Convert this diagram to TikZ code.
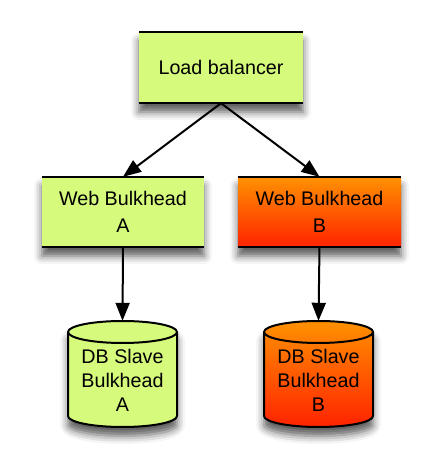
\documentclass[tikz,border=0pt]{standalone}
\usepackage{fontspec}
\setmainfont{Liberation Sans}
\usetikzlibrary{arrows.meta,shadows.blur}
\definecolor{boxgreen}{RGB}{214,250,124}
\definecolor{orangetop}{RGB}{255,145,0}
\definecolor{orangebot}{RGB}{255,35,0}
\tikzset{
  softshadow/.style={blur shadow={shadow xshift=0pt,shadow yshift=-9pt,shadow blur radius=8pt,shadow opacity=65}},
  webbox/.style={rectangle, minimum height=70pt, inner sep=0pt, align=center, font=\fontsize{19.7}{26.5}\selectfont, softshadow},
  greenfill/.style={fill=boxgreen},
  orangefill/.style={top color=orangetop, bottom color=orangebot},
  edgeline/.style={line width=2.2pt},
  conn/.style={line width=2pt, -{Triangle[length=18pt,width=14pt]}},
  dbframe/.style={rectangle, minimum width=109pt, minimum height=106pt, inner sep=0pt},
  dbtext/.style={align=center, font=\fontsize{19.7}{24}\selectfont, inner sep=0pt},
  cylout/.style={line width=2pt},
  pics/dbcyl/.style={code={
    \path[softshadow, #1] (-54.5,42) -- (-54.5,-42) arc[start angle=180,end angle=360,x radius=54.5pt,y radius=11pt] -- (54.5,42) arc[start angle=0,end angle=180,x radius=54.5pt,y radius=11pt] -- cycle;
    \draw[cylout] (-54.5,42) -- (-54.5,-42) arc[start angle=180,end angle=360,x radius=54.5pt,y radius=11pt] -- (54.5,42) arc[start angle=0,end angle=180,x radius=54.5pt,y radius=11pt] -- cycle;
    \draw[cylout] (-54.5,42) arc[start angle=180,end angle=360,x radius=54.5pt,y radius=11pt];
  }}
}
\begin{document}
\begin{tikzpicture}[x=1pt,y=1pt]
\useasboundingbox (0,0) rectangle (440,476);

\node[webbox, greenfill, minimum width=164pt, minimum height=71pt] (lb) at (221,408.5) {Load balancer};
\node[webbox, greenfill, minimum width=162pt] (webA) at (123,264) {Web Bulkhead\\A};
\node[webbox, orangefill, minimum width=163pt] (webB) at (319.5,264) {Web Bulkhead\\B};
\foreach \n in {lb,webA,webB} {
  \draw[edgeline] (\n.north west) -- (\n.north east);
  \draw[edgeline] (\n.south west) -- (\n.south east);
}

\pic at (122.5,102) {dbcyl=greenfill};
\pic at (318.5,102) {dbcyl=orangefill};
\node[dbframe] (dbA) at (122.5,102) {};
\node[dbframe] (dbB) at (318.5,102) {};
\node[dbtext] (dbAtext) at (122.5,96) {DB Slave\\Bulkhead\\A};
\node[dbtext] (dbBtext) at (318.5,96) {DB Slave\\Bulkhead\\B};

\draw[conn] (lb.south) -- (webA.north);
\draw[conn] (lb.south) -- (webB.north);
\draw[conn] (webA.south) -- (dbA.north);
\draw[conn] (webB.south) -- (dbB.north);
\end{tikzpicture}
\end{document}
